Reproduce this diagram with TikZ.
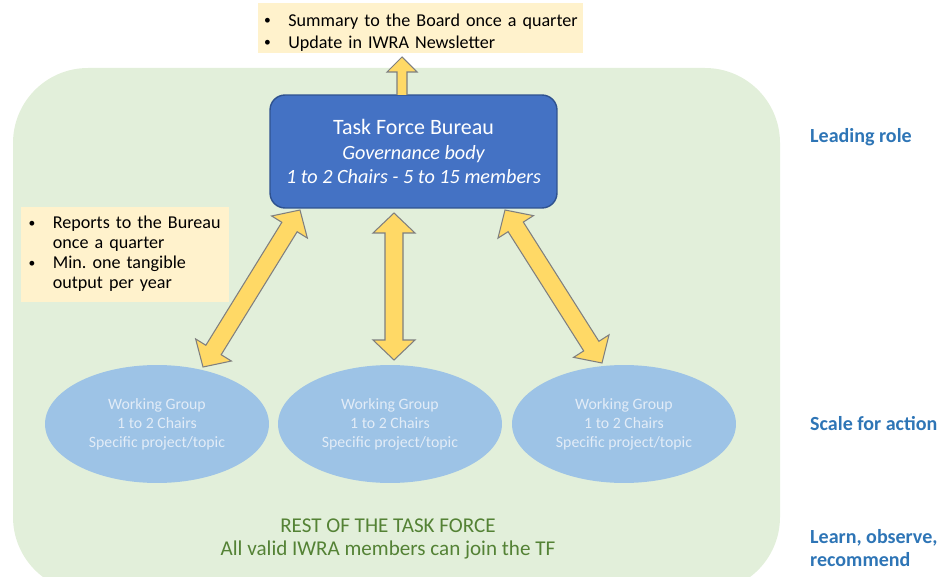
\documentclass[tikz,border=0pt]{standalone}
\usepackage{fontspec}
\usepackage{graphicx}
\setmainfont{Carlito}
\frenchspacing
\usetikzlibrary{calc,shapes.geometric}

\definecolor{bggreen}{RGB}{226,239,218}
\definecolor{notecream}{RGB}{255,242,204}
\definecolor{bureaublue}{RGB}{68,114,196}
\definecolor{bureauedge}{RGB}{47,82,143}
\definecolor{groupblue}{RGB}{157,195,230}
\definecolor{grouptext}{RGB}{226,236,247}
\definecolor{arrowyellow}{RGB}{255,217,102}
\definecolor{arrowedge}{RGB}{127,127,127}
\definecolor{restgreen}{RGB}{84,130,53}
\definecolor{levelblue}{RGB}{46,117,182}

\newcommand{\notebullet}{\raisebox{0.8pt}{\scalebox{0.75}{\textbullet}}}

% double headed block arrow between two named points
\newcommand{\twowayarrow}[2]{%
  \coordinate (ha) at ($(#1)!0.4cm!(#2)$);
  \coordinate (hb) at ($(#2)!0.4cm!(#1)$);
  \draw[blockarrow] (#1) -- ($(ha)!0.42cm!90:(#2)$) -- ($(ha)!0.18cm!90:(#2)$)
    -- ($(hb)!0.18cm!-90:(#1)$) -- ($(hb)!0.42cm!-90:(#1)$) -- (#2)
    -- ($(hb)!0.42cm!90:(#1)$) -- ($(hb)!0.18cm!90:(#1)$)
    -- ($(ha)!0.18cm!-90:(#2)$) -- ($(ha)!0.42cm!-90:(#2)$) -- cycle;}

\tikzset{
  note/.style={fill=notecream, inner ysep=0pt, align=left},
  bureau/.style={rectangle, rounded corners=0.3cm, fill=bureaublue, draw=bureauedge,
    line width=0.8pt, text=white, align=center, font=\fontsize{12.5}{14.2}\selectfont},
  group/.style={ellipse, fill=groupblue, minimum width=4.48cm, minimum height=2.36cm,
    inner sep=0pt, text=grouptext, align=center, font=\fontsize{9}{10.8}\selectfont},
  blockarrow/.style={fill=arrowyellow, draw=arrowedge, line width=0.6pt, line join=miter},
  level/.style={anchor=west, text=levelblue, align=left,
    font=\fontsize{11.4}{13}\selectfont\bfseries},
  rest/.style={text=restgreen, align=center, font=\fontsize{12}{12.6}\selectfont}
}

\begin{document}
\begin{tikzpicture}[x=0.02cm, y=-0.02cm]
  \useasboundingbox (0,0) rectangle (942,577);

  % Sfondo della task force
  \fill[bggreen, rounded corners=1.5cm] (13,68) rectangle (780,592);

  % Note
  \node[note, minimum width=6.5cm, minimum height=1cm, text width=6.26cm, inner xsep=0.12cm,
    font=\fontsize{10.3}{12.5}\selectfont]
    (board) at (420.5,28) {\raisebox{-2.8pt}[\height][\depth]{%
    \begin{tabular}{@{}l@{\hspace{10pt}}l@{}}
      \notebullet & Summary to the Board once a quarter\\
      \notebullet & Update in IWRA Newsletter
    \end{tabular}}};
  \node[note, minimum width=4.12cm, minimum height=1.9cm, text width=3.86cm, inner xsep=0.15cm,
    font=\fontsize{10.3}{11.4}\selectfont]
    (reports) at (125,254.5) {\begin{tabular}{@{}l@{\hspace{10pt}}l@{}}
      \notebullet & Reports to the Bureau\\
                  & once a quarter\\
      \notebullet & Min. one tangible\\
                  & output per year
    \end{tabular}};

  % Bureau e gruppi
  \node[bureau, minimum width=5.74cm, minimum height=2.26cm] (bureau) at (413.5,151.5)
    {Task Force Bureau\\ {\fontsize{11.5}{14}\selectfont\itshape Governance body}\\
     {\fontsize{11.5}{14}\selectfont\itshape 1 to 2 Chairs - 5 to 15 members}};
  \node[group] (wg1) at (157,424) {Working Group\\1 to 2 Chairs\\Specific project/topic};
  \node[group] (wg2) at (390,424) {Working Group\\1 to 2 Chairs\\Specific project/topic};
  \node[group] (wg3) at (624,424) {Working Group\\1 to 2 Chairs\\Specific project/topic};

  % Frecce
  \coordinate (upT) at (402,57);
  \coordinate (upB) at (402,95);
  \draw[blockarrow] ($(upB)+(-5,0)$) -- ($(upT)+(-5,15)$) -- ($(upT)+(-15,15)$) -- (upT)
    -- ($(upT)+(15,15)$) -- ($(upT)+(5,15)$) -- ($(upB)+(5,0)$);
  \coordinate (bl) at (300,210);
  \coordinate (gl) at (203,367);
  \coordinate (bm) at (394,213);
  \coordinate (gm) at (394,360);
  \coordinate (br) at (505,210);
  \coordinate (gr) at (602,363);
  \twowayarrow{bl}{gl}
  \twowayarrow{bm}{gm}
  \twowayarrow{br}{gr}

  % Testi
  \node[rest] (rest) at (388,539) {REST OF THE TASK FORCE\\All valid IWRA members can join the TF};
  \node[level] (lead) at (804,137) {Leading role};
  \node[level] (scale) at (804,424) {Scale for action};
  \node[level] (learn) at (804,548) {Learn, observe,\\recommend};
\end{tikzpicture}
\end{document}
